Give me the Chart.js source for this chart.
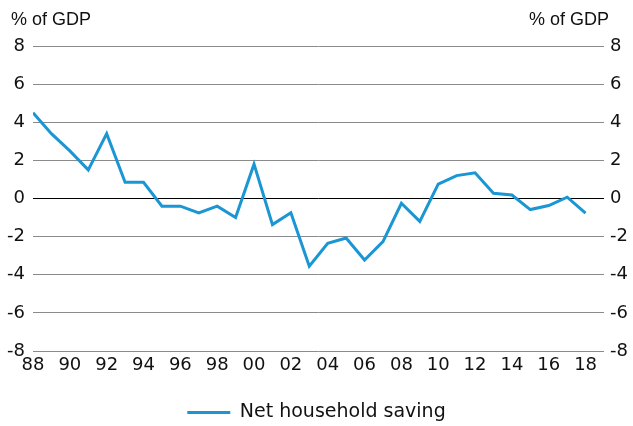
<!DOCTYPE html>
<html lang="en">
<head>
  <meta charset="UTF-8">
  <title>Net household saving</title>
  <script src="https://cdn.jsdelivr.net/npm/chart.js"></script>
  <style>
    body { margin: 0; background: #fff; }
    .grafico { position: relative; width: 633px; height: 426px; }
  </style>
</head>
<body>
  <div class="grafico">
    <canvas id="myChart_saving"></canvas>
  </div>

<script>
  // anos 1988-2018, % do PIB
  var anos = [1988, 1989, 1990, 1991, 1992, 1993, 1994, 1995, 1996, 1997, 1998, 1999, 2000,
    2001, 2002, 2003, 2004, 2005, 2006, 2007, 2008, 2009, 2010, 2011, 2012, 2013, 2014,
    2015, 2016, 2017, 2018]
  var poupanca = [4.5, 3.4, 2.5, 1.5, 3.4, 0.85, 0.85, -0.4, -0.4, -0.75, -0.4, -1.0, 1.8,
    -1.37, -0.75, -3.55, -2.35, -2.07, -3.23, -2.26, -0.25, -1.2, 0.75, 1.2, 1.35, 0.27, 0.18,
    -0.58, -0.37, 0.07, -0.77]
  var ticks_y = [-8, -6, -4, -2, 0, 2, 4, 6, 8]
  var nome_serie = "Net household saving"
  var unidade = "% of GDP"

  var azul = "#1a96d4"
  var fonte = "'DejaVu Sans', sans-serif"
  var fonte_titulo = "'Liberation Sans', Arial, sans-serif"

  // titulos "% of GDP" em cima dos dois eixos
  const titulos_eixos = {
    id: 'titulos_eixos',
    afterDraw(chart) {
      const ctx = chart.ctx
      ctx.save()
      ctx.fillStyle = "#111"
      ctx.font = "18px " + fonte_titulo
      ctx.textBaseline = "alphabetic"
      ctx.textAlign = "left"
      ctx.fillText(unidade, 11, 25)
      ctx.textAlign = "right"
      ctx.fillText(unidade, 609, 25)
      ctx.restore()
    }
  }

  const data = {
    datasets: [{
      label: nome_serie,
      data: anos.map(function (a, i) { return { x: a, y: poupanca[i] } }),
      borderColor: azul,
      backgroundColor: azul,
      borderWidth: 3,
      pointRadius: 0,
      tension: 0,
      yAxisID: 'y'
    }]
  }

  function eixo_y(posicao) {
    return {
      type: 'linear',
      position: posicao,
      min: -8,
      max: 8,
      afterBuildTicks: function (axis) {
        axis.ticks = ticks_y.map(function (v) { return { value: v } })
      },
      ticks: {
        color: "#111",
        font: { family: fonte, size: 18 },
        padding: posicao == 'left' ? 8 : 6
      },
      border: { display: false },
      grid: {
        display: posicao == 'left',
        drawTicks: false,
        lineWidth: 1,
        color: function (c) { return c.tick && c.tick.value == 0 ? "#000" : "#8a8a8a" }
      },
      afterFit: function (axis) { axis.width = posicao == 'left' ? 33 : 29 }
    }
  }

  const config = {
    type: 'line',
    data: data,
    plugins: [titulos_eixos],
    options: {
      responsive: true,
      maintainAspectRatio: false,
      animation: false,
      layout: { padding: { top: 46, bottom: -6, left: 0, right: 0 } },
      plugins: {
        tooltip: { enabled: false },
        legend: {
          position: 'bottom',
          labels: {
            color: "#111",
            font: { family: fonte, size: 19 },
            boxWidth: 43,
            boxHeight: 3,
            padding: 1,
            generateLabels: function (chart) {
              var itens = Chart.defaults.plugins.legend.labels.generateLabels(chart)
              itens.forEach(function (item) { item.lineWidth = 0 })
              return itens
            }
          }
        }
      },
      scales: {
        x: {
          type: 'linear',
          min: 1988,
          max: 2019,
          afterBuildTicks: function (axis) {
            axis.ticks = anos.filter(function (a) { return a % 2 == 0 }).map(function (a) { return { value: a } })
          },
          ticks: {
            color: "#111",
            font: { family: fonte, size: 18 },
            padding: 4,
            maxRotation: 0,
            autoSkip: false,
            callback: function (v) { return String(v % 100).padStart(2, '0') }
          },
          border: { display: false },
          grid: { display: false, drawTicks: false },
          afterFit: function (axis) { axis.height = 51 }
        },
        y: eixo_y('left'),
        y2: eixo_y('right')
      }
    }
  }

  Chart.defaults.color = "#111"

  const myChart = new Chart(
    document.getElementById('myChart_saving'),
    config
  )
</script>
</body>
</html>
